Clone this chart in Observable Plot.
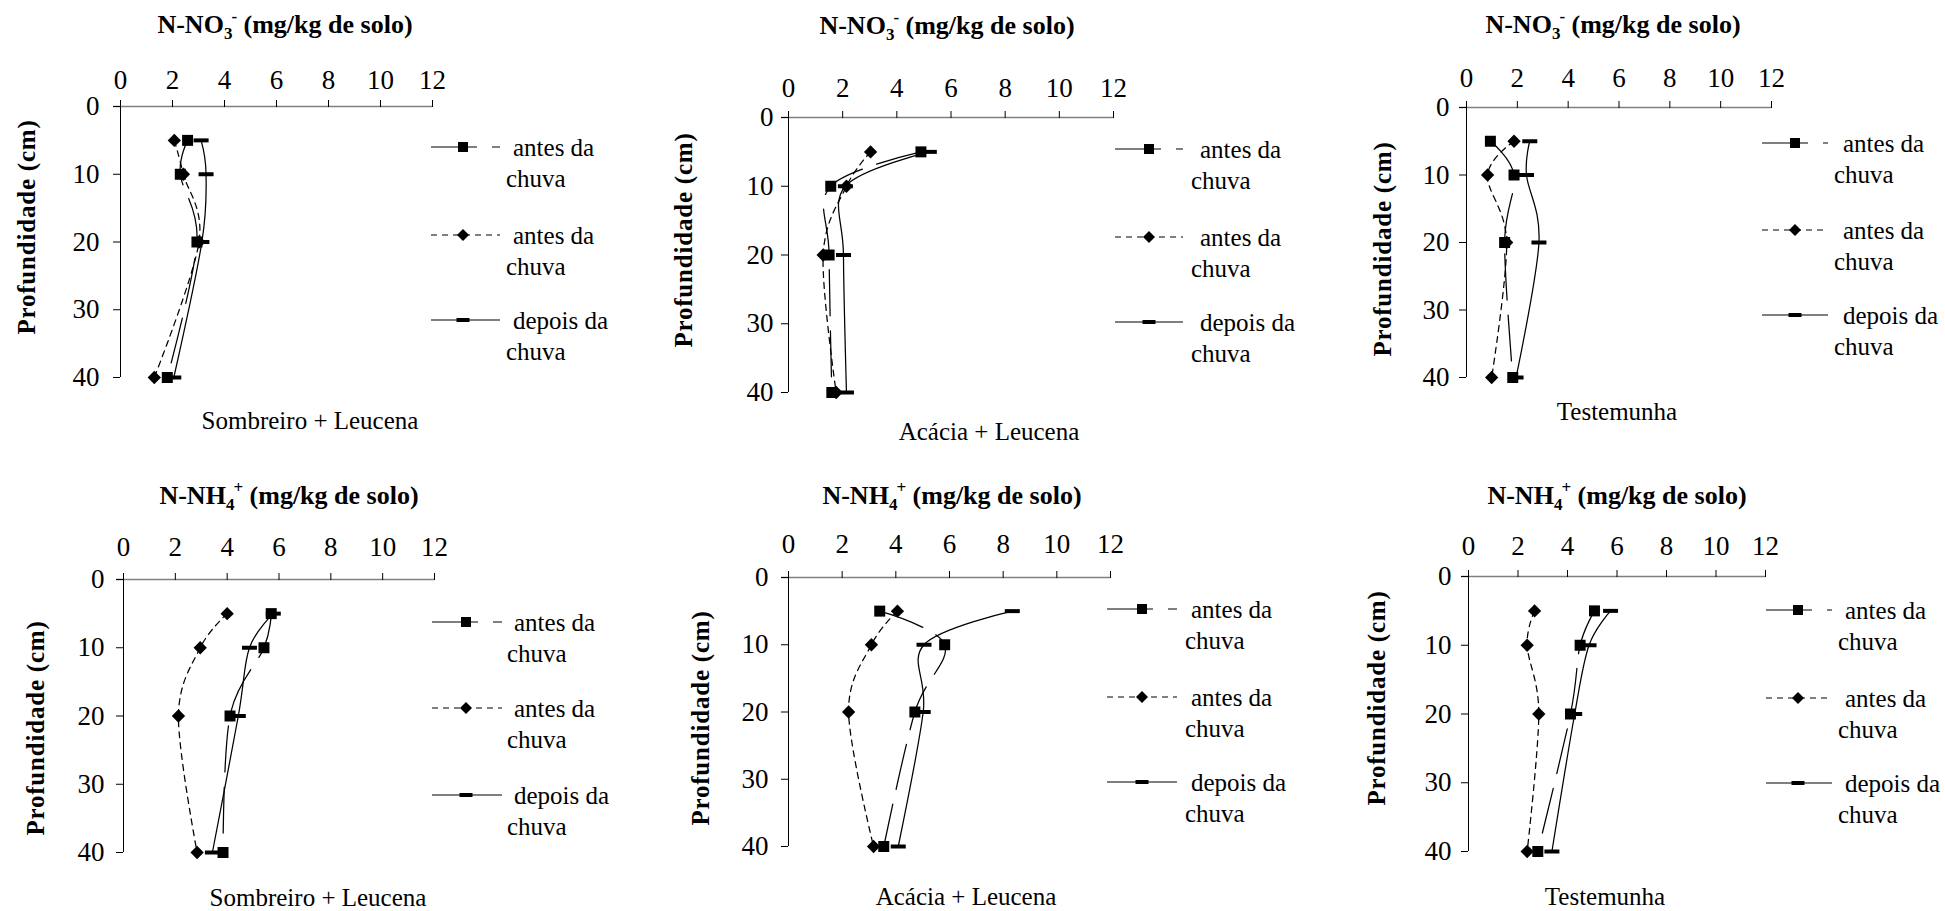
<!DOCTYPE html>
<html>
<head>
<meta charset="utf-8">
<script src="https://cdn.jsdelivr.net/npm/d3@7"></script>
<script src="https://cdn.jsdelivr.net/npm/@observablehq/plot@0.6"></script>
<style>
html, body { margin: 0; padding: 0; background: #fff; }
#root { position: relative; width: 1945px; height: 911px; overflow: hidden; font-family: 'Liberation Serif', 'Times New Roman', 'DejaVu Serif', serif; }
#root > svg { position: absolute; }
#root text { font-family: 'Liberation Serif', 'Times New Roman', 'DejaVu Serif', serif !important; }
</style>
</head>
<body>
<div id="root"></div>
<script>
// ---------- data ----------
const depths = [5, 10, 20, 40];
const xTicks = [0, 2, 4, 6, 8, 10, 12];
const yTicks = [0, 10, 20, 30, 40];
const seriesLabels = ["antes da chuva", "antes da chuva", "depois da chuva"];
const captions = ["Sombreiro + Leucena", "Acácia + Leucena", "Testemunha"];
const yAxisTitle = "Profundidade (cm)";

// N-NO3- (mg/kg de solo)
const no3SombAntesA = [2.58, 2.30, 2.94, 1.80];
const no3SombAntesB = [2.07, 2.42, 3.02, 1.30];
const no3SombDepois = [3.10, 3.29, 3.13, 2.05];
const no3AcacAntesA = [4.89, 1.56, 1.50, 1.60];
const no3AcacAntesB = [3.03, 2.14, 1.28, 1.76];
const no3AcacDepois = [5.20, 2.10, 2.03, 2.14];
const no3TestAntesA = [0.94, 1.87, 1.50, 1.82];
const no3TestAntesB = [1.87, 0.83, 1.58, 0.99];
const no3TestDepois = [2.49, 2.36, 2.85, 1.95];

// N-NH4+ (mg/kg de solo)
const nh4SombAntesA = [5.70, 5.42, 4.11, 3.84];
const nh4SombAntesB = [4.00, 2.96, 2.12, 2.84];
const nh4SombDepois = [5.78, 4.86, 4.43, 3.43];
const nh4AcacAntesA = [3.40, 5.82, 4.71, 3.55];
const nh4AcacAntesB = [4.06, 3.09, 2.24, 3.17];
const nh4AcacDepois = [8.34, 5.05, 5.02, 4.09];
const nh4TestAntesA = [5.09, 4.51, 4.12, 2.80];
const nh4TestAntesB = [2.67, 2.37, 2.84, 2.37];
const nh4TestDepois = [5.74, 4.87, 4.29, 3.37];

// ---------- styles ----------
const FONT = "'Liberation Serif', 'Times New Roman', 'DejaVu Serif', serif";
const seriesStyle = [
  {dash: "46,15", symbol: "square", r: 6.2},
  {dash: "6,5", symbol: "diamond2", r: 6},
  {dash: null, symbol: "dashmark", r: 5}
];
const dashSymbol = {draw(ctx) { ctx.moveTo(-7.5, -2); ctx.lineTo(7.5, -2); ctx.lineTo(7.5, 2); ctx.lineTo(-7.5, 2); ctx.closePath(); }};

// ---------- layout ----------
const layout = [
  {ion: "NO", sub: "3", sup: "-", series: [no3SombAntesA, no3SombAntesB, no3SombDepois], cap: 0,
   x0: 120, x12: 432, y0: 106, y40: 377, xPad: 11, yPad: 14,
   title: [285, 33], caption: [310, 429], ylab: [26, 227],
   leg: {x1: 431, x2: 500, mx: 463, rows: [147, 235, 320], tx: 513, tx2: 506}},
  {ion: "NO", sub: "3", sup: "-", series: [no3AcacAntesA, no3AcacAntesB, no3AcacDepois], cap: 1,
   x0: 788, x12: 1113, y0: 117, y40: 392, xPad: 14, yPad: 8,
   title: [947, 34], caption: [989, 440], ylab: [683, 240],
   leg: {x1: 1115, x2: 1183, mx: 1149, rows: [149, 237, 322], tx: 1200, tx2: 1191}},
  {ion: "NO", sub: "3", sup: "-", series: [no3TestAntesA, no3TestAntesB, no3TestDepois], cap: 2,
   x0: 1466, x12: 1771, y0: 107, y40: 377, xPad: 14, yPad: 10,
   title: [1613, 33], caption: [1617, 420], ylab: [1382, 249],
   leg: {x1: 1762, x2: 1828, mx: 1795, rows: [143, 230, 315], tx: 1843, tx2: 1834}},
  {ion: "NH", sub: "4", sup: "+", series: [nh4SombAntesA, nh4SombAntesB, nh4SombDepois], cap: 0,
   x0: 123, x12: 434, y0: 579, y40: 852, xPad: 17, yPad: 12,
   title: [289, 504], caption: [318, 906], ylab: [35, 728],
   leg: {x1: 432, x2: 502, mx: 466, rows: [622, 708, 795], tx: 514, tx2: 507}},
  {ion: "NH", sub: "4", sup: "+", series: [nh4AcacAntesA, nh4AcacAntesB, nh4AcacDepois], cap: 1,
   x0: 788, x12: 1110, y0: 577, y40: 846, xPad: 18, yPad: 13,
   title: [952, 504], caption: [966, 905], ylab: [700, 718],
   leg: {x1: 1107, x2: 1177, mx: 1142, rows: [609, 697, 782], tx: 1191, tx2: 1185}},
  {ion: "NH", sub: "4", sup: "+", series: [nh4TestAntesA, nh4TestAntesB, nh4TestDepois], cap: 2,
   x0: 1468, x12: 1765, y0: 576, y40: 851, xPad: 15, yPad: 10,
   title: [1617, 504], caption: [1605, 905], ylab: [1376, 698],
   leg: {x1: 1766, x2: 1832, mx: 1798, rows: [610, 698, 783], tx: 1845, tx2: 1838}}
];

const root = document.getElementById("root");

function symbolFor(s) { return s === "dashmark" ? dashSymbol : s; }

layout.forEach(p => {
  const ML = 100, MT = 60, MR = 30, MB = 30;
  const W = (p.x12 - p.x0) + ML + MR;
  const H = (p.y40 - p.y0) + MT + MB;
  const marks = [
    Plot.ruleY([0], {stroke: "#808080", strokeWidth: 1.3, insetLeft: -7}),
    Plot.ruleX([0], {stroke: "#000", strokeWidth: 1}),
    Plot.axisX({anchor: "top", ticks: xTicks, tickSize: 7, tickPadding: p.xPad, fontSize: 27, label: null, tickFormat: d => String(d)}),
    Plot.axisY({anchor: "left", ticks: yTicks, tickSize: 7, tickPadding: p.yPad, fontSize: 27, label: null, tickFormat: d => String(d)})
  ];
  p.series.forEach((vals, i) => {
    const rows = depths.map((d, k) => ({depth: d, value: vals[k]}));
    const st = seriesStyle[i];
    marks.push(Plot.line(rows, {x: "value", y: "depth", curve: "cardinal", tension: 0, stroke: "#000", strokeWidth: 1.25, strokeDasharray: st.dash || undefined}));
  });
  p.series.forEach((vals, i) => {
    const rows = depths.map((d, k) => ({depth: d, value: vals[k]}));
    const st = seriesStyle[i];
    marks.push(Plot.dot(rows, {x: "value", y: "depth", symbol: symbolFor(st.symbol), r: st.r, fill: "#000", stroke: "none"}));
  });
  const svg = Plot.plot({
    width: W, height: H,
    marginLeft: ML, marginTop: MT, marginRight: MR, marginBottom: MB,
    style: {background: "transparent", overflow: "visible", fontFamily: FONT, fontSize: "27px", color: "#000"},
    x: {domain: [0, 12], label: null},
    y: {domain: [0, 40], reverse: true, label: null},
    marks
  });
  svg.style.left = (p.x0 - ML) + "px";
  svg.style.top = (p.y0 - MT) + "px";
  svg.style.fontFamily = FONT;
  root.appendChild(svg);
});

// ---------- overlay texts and legends ----------
const ov = d3.select(root).append("svg")
  .attr("width", 1945).attr("height", 911)
  .style("left", "0px").style("top", "0px")
  .style("pointer-events", "none")
  .style("font-family", FONT);

layout.forEach(p => {
  // title
  const t = ov.append("text").attr("x", p.title[0]).attr("y", p.title[1])
    .attr("text-anchor", "middle").attr("font-weight", "bold").attr("font-size", 26);
  t.append("tspan").text("N-" + p.ion);
  t.append("tspan").attr("font-size", 17).attr("dy", 6).text(p.sub);
  t.append("tspan").attr("font-size", 17).attr("dy", -17).attr("dx", -1).text(p.sup);
  t.append("tspan").attr("dy", 11).text(" (mg/kg de solo)");

  // caption
  ov.append("text").attr("x", p.caption[0]).attr("y", p.caption[1])
    .attr("text-anchor", "middle").attr("font-size", 25).text(captions[p.cap]);

  // y axis title
  ov.append("text")
    .attr("transform", `translate(${p.ylab[0]},${p.ylab[1]}) rotate(-90)`)
    .attr("text-anchor", "middle").attr("dy", "0.35em")
    .attr("font-weight", "bold").attr("font-size", 25).attr("letter-spacing", 0.8)
    .text(yAxisTitle);

  // legend
  const L = p.leg;
  seriesStyle.forEach((st, i) => {
    const y = L.rows[i];
    const ln = ov.append("line").attr("x1", L.x1).attr("x2", L.x2).attr("y1", y).attr("y2", y)
      .attr("stroke", "#000").attr("stroke-width", 1.1);
    if (st.dash) ln.attr("stroke-dasharray", st.dash);
    if (st.symbol === "square") {
      ov.append("rect").attr("x", L.mx - 5).attr("y", y - 5).attr("width", 10).attr("height", 10).attr("fill", "#000");
    } else if (st.symbol === "diamond2") {
      ov.append("path").attr("d", `M${L.mx},${y - 6}L${L.mx + 6},${y}L${L.mx},${y + 6}L${L.mx - 6},${y}Z`).attr("fill", "#000");
    } else {
      ov.append("rect").attr("x", L.mx - 6.5).attr("y", y - 2).attr("width", 13).attr("height", 4).attr("fill", "#000");
    }
    const words = seriesLabels[i].split(" ");
    ov.append("text").attr("x", L.tx).attr("y", y + 9).attr("font-size", 25).text(words.slice(0, -1).join(" "));
    ov.append("text").attr("x", L.tx2).attr("y", y + 40).attr("font-size", 25).text(words[words.length - 1]);
  });
});
</script>
</body>
</html>
